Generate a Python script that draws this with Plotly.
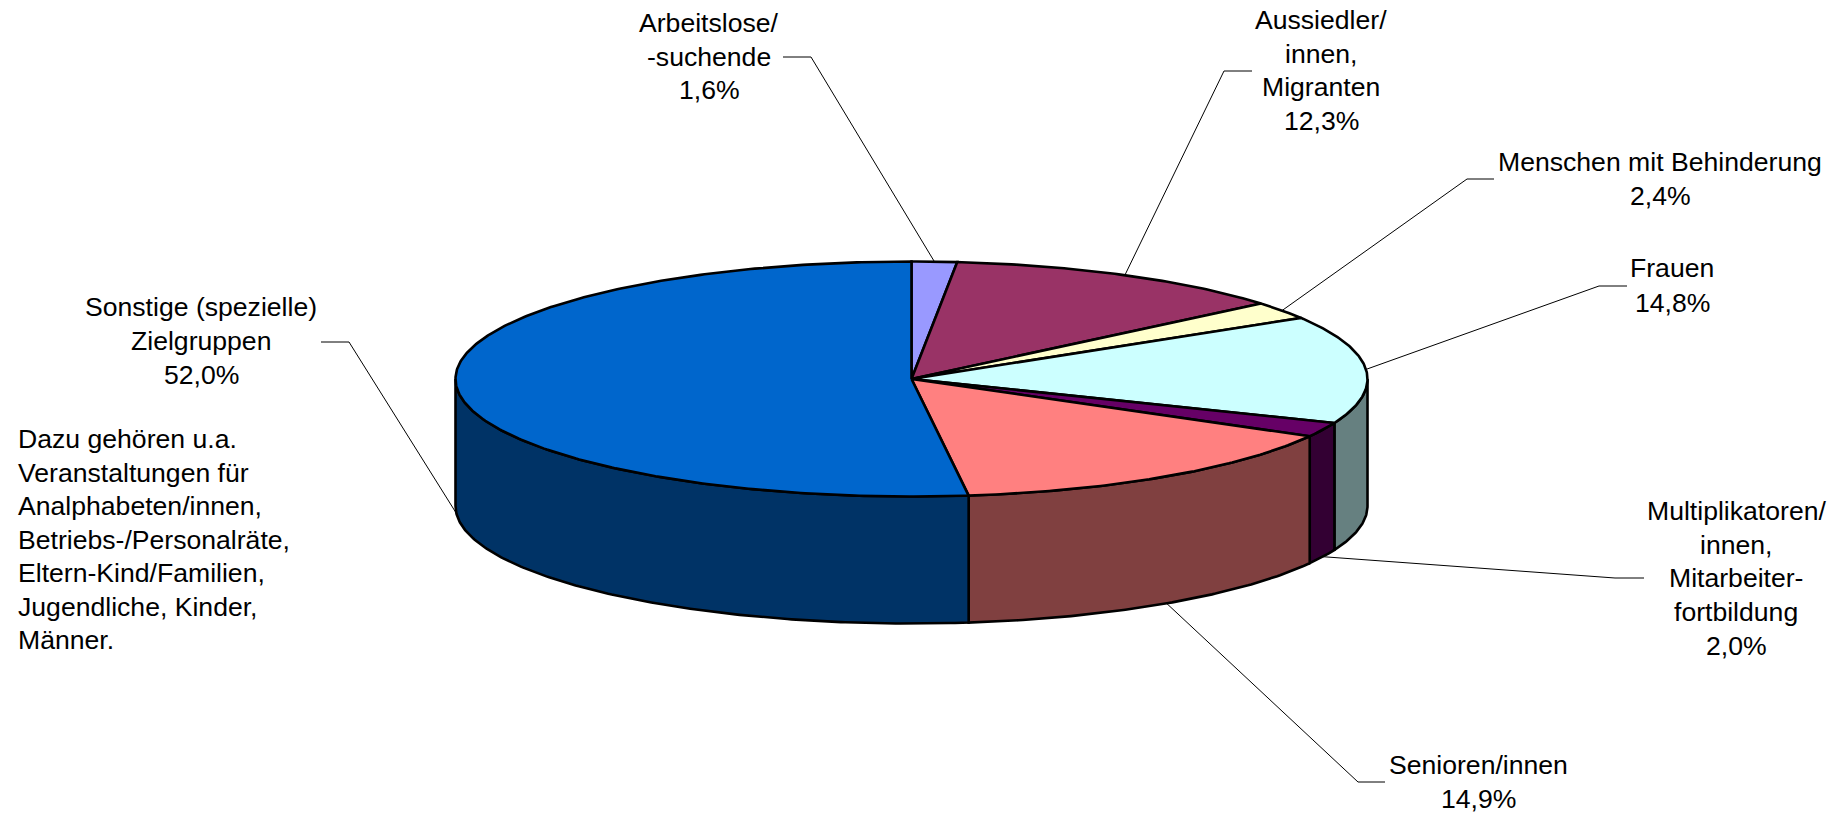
import math
import plotly.graph_objects as go

# --- data ---
categories = ["Arbeitslose", "Aussiedler", "Menschen mit Behinderung", "Frauen",
              "Multiplikatoren", "Senioren", "Sonstige"]
values = [1.6, 12.3, 2.4, 14.8, 2.0, 14.9, 52.0]
top_colors = ["#9999FF", "#993366", "#FFFFCC", "#CCFFFF", "#660066", "#FF8080", "#0066CC"]
side_colors = ["#4D4D80", "#4D1A33", "#808066", "#668080", "#330033", "#804040", "#003366"]
label_lines = [
    ["Arbeitslose/", "-suchende", "1,6%"],
    ["Aussiedler/", "innen,", "Migranten", "12,3%"],
    ["Menschen mit Behinderung", "2,4%"],
    ["Frauen", "14,8%"],
    ["Multiplikatoren/", "innen,", "Mitarbeiter-", "fortbildung", "2,0%"],
    ["Senioren/innen", "14,9%"],
    ["Sonstige (spezielle)", "Zielgruppen", "52,0%"],
]
note_lines = ["Dazu gehören u.a.", "Veranstaltungen für", "Analphabeten/innen,",
              "Betriebs-/Personalräte,", "Eltern-Kind/Familien,",
              "Jugendliche, Kinder,", "Männer."]

# --- layout (pixels of the picture) ---
W, H = 1841, 813
CX, CY, RX, RY, DEPTH = 911.5, 379, 456, 117.5, 127
FONT = dict(family="Liberation Sans, Arial, sans-serif", size=26.6, color="#000000")
LABEL_X = [709, 1321, 1660, 1672, 1736, 1478, 201]
LABEL_Y0 = [23, 20, 162, 268, 511, 765, 307]
LINE_STEP = [33.7, 33.5, 33.5, 34.5, 33.7, 33.5, 34]
ELBOWS = [[(783, 57), (811, 57)], [(1252, 71), (1224, 71)], [(1494, 179), (1467, 179)],
          [(1627, 286), (1599, 286)], [(1644, 578), (1615, 578)],
          [(1385, 782), (1358, 782)], [(321, 342), (349, 342)]]
NOTE_X, NOTE_Y0, NOTE_STEP = 16, 439, 33.5


def pt(theta, dy=0.0):
    return CX + RX * math.sin(theta), CY - RY * math.cos(theta) + dy


def arc(a, b, dy=0.0, step=0.01):
    n = max(2, int(abs(b - a) / step))
    return [pt(a + (b - a) * i / n, dy) for i in range(n + 1)]


total = sum(values)
edges = [0.0]
for v in values:
    edges.append(edges[-1] + v / total * 2 * math.pi)

fig = go.Figure()


def poly(points, fill, lw=2.6):
    fig.add_trace(go.Scatter(x=[p[0] for p in points], y=[p[1] for p in points],
                             mode="lines", fill="toself", fillcolor=fill,
                             line=dict(color="#000000", width=lw),
                             hoverinfo="skip", showlegend=False))


# leader lines, anchored at each slice's mid-angle
for i, elbow in enumerate(ELBOWS):
    mid = (edges[i] + edges[i + 1]) / 2
    front = math.pi / 2 < mid < 3 * math.pi / 2
    end = pt(mid, DEPTH if front else 0)
    pts = elbow + [end]
    fig.add_trace(go.Scatter(x=[p[0] for p in pts], y=[p[1] for p in pts], mode="lines",
                             line=dict(color="#000000", width=1),
                             hoverinfo="skip", showlegend=False))

# visible side walls
for i in range(len(values)):
    a = max(edges[i], math.pi / 2)
    b = min(edges[i + 1], 3 * math.pi / 2)
    if a < b:
        poly(arc(a, b) + arc(b, a, DEPTH) + [pt(a)], side_colors[i])

# top wedges
for i in range(len(values)):
    poly([(CX, CY)] + arc(edges[i], edges[i + 1]) + [(CX, CY)], top_colors[i])

annotations = []
for i, lines in enumerate(label_lines):
    for j, t in enumerate(lines):
        annotations.append(dict(x=LABEL_X[i], y=LABEL_Y0[i] + j * LINE_STEP[i], text=t,
                                xref="x", yref="y", showarrow=False, xanchor="center",
                                yanchor="middle", font=FONT))
for j, t in enumerate(note_lines):
    annotations.append(dict(x=NOTE_X, y=NOTE_Y0 + j * NOTE_STEP, text=t, xref="x", yref="y",
                            showarrow=False, xanchor="left", yanchor="middle", font=FONT))

fig.update_layout(
    width=W, height=H, margin=dict(l=0, r=0, t=0, b=0),
    paper_bgcolor="#FFFFFF", plot_bgcolor="#FFFFFF", showlegend=False,
    xaxis=dict(range=[0, W], visible=False, fixedrange=True),
    yaxis=dict(range=[H, 0], visible=False, fixedrange=True),
    annotations=annotations,
)
fig.write_html("out.html", config=dict(displayModeBar=False),
               post_script="document.body.style.margin='0';document.documentElement.style.overflow='hidden';")
